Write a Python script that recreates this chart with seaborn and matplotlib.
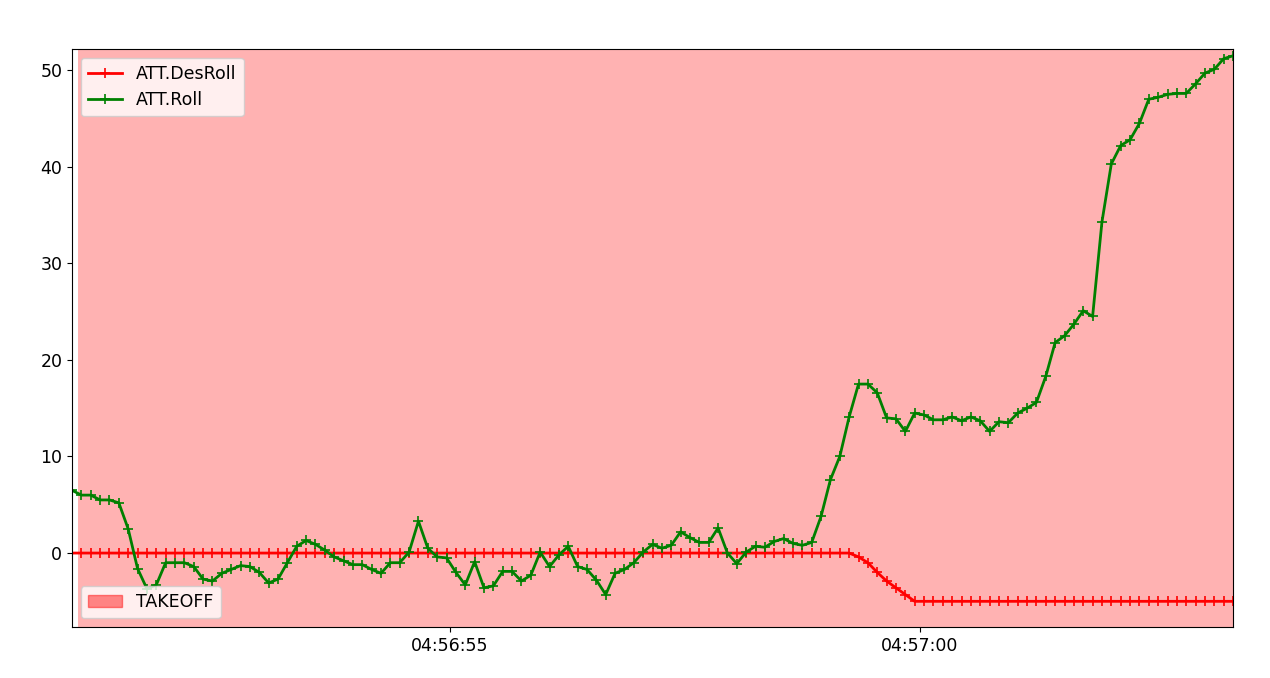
import numpy as np
import pandas as pd
import seaborn as sns
import matplotlib.pyplot as plt
import matplotlib.dates as mdates
from matplotlib.patches import Patch

# ATT log, ~10 Hz samples
t_start = "2000-01-01 04:56:50.980"
t_end = "2000-01-01 04:57:03.330"
takeoff_start = "2000-01-01 04:56:51.045"

roll = [6.5, 6.0, 6.0, 5.5, 5.5, 5.2, 2.5, -1.6, -3.7, -3.3,
        -1.0, -1.0, -1.0, -1.4, -2.7, -2.9, -2.1, -1.7, -1.3, -1.4,
        -2.0, -3.1, -2.7, -1.0, 0.7, 1.3, 0.9, 0.3, -0.4, -0.8,
        -1.2, -1.2, -1.7, -2.1, -1.0, -1.0, 0.1, 3.3, 0.5, -0.4,
        -0.5, -2.0, -3.3, -0.9, -3.6, -3.4, -1.9, -1.9, -2.9, -2.3,
        0.1, -1.4, -0.2, 0.7, -1.4, -1.7, -2.8, -4.3, -2.1, -1.7,
        -1.0, 0.1, 0.9, 0.5, 0.8, 2.2, 1.6, 1.1, 1.1, 2.6,
        0.0, -1.1, 0.1, 0.7, 0.6, 1.2, 1.5, 1.0, 0.8, 1.1,
        3.8, 7.6, 10.0, 14.1, 17.5, 17.5, 16.6, 14.0, 13.9, 12.6,
        14.5, 14.3, 13.8, 13.8, 14.1, 13.7, 14.1, 13.7, 12.6, 13.6,
        13.5, 14.5, 15.0, 15.6, 18.3, 21.8, 22.5, 23.7, 25.1, 24.5,
        34.3, 40.3, 42.2, 42.8, 44.5, 47.0, 47.2, 47.5, 47.6, 47.6,
        48.6, 49.7, 50.1, 51.2, 51.5]

des_roll = [0.0] * 84 + [-0.4, -1.0, -2.0, -2.9, -3.6, -4.3] + [-5.0] * 35

times = pd.date_range(t_start, t_end, periods=len(roll))
df = pd.DataFrame({"time": times, "ATT.DesRoll": des_roll, "ATT.Roll": roll})

fig = plt.figure(figsize=(12.7, 6.78), dpi=100)
ax = fig.add_axes([0.0567, 0.0752, 0.9142, 0.8525])

ax.axvspan(pd.Timestamp(takeoff_start), pd.Timestamp(t_end) + pd.Timedelta(seconds=1),
           color="red", alpha=0.3, lw=0)

sns.lineplot(data=df, x="time", y="ATT.DesRoll", color="red", marker="+",
             markersize=7, markeredgecolor="red", markeredgewidth=1.2,
             linewidth=2, ax=ax, label="ATT.DesRoll", legend=False)
sns.lineplot(data=df, x="time", y="ATT.Roll", color="green", marker="+",
             markersize=7, markeredgecolor="green", markeredgewidth=1.2,
             linewidth=2, ax=ax, label="ATT.Roll", legend=False)

ax.set_xlim(times[0], times[-1])
ax.set_ylim(-7.66, 52.2)
ax.set_xlabel("")
ax.set_ylabel("")
ax.xaxis.set_major_locator(mdates.SecondLocator(bysecond=range(0, 60, 5)))
ax.xaxis.set_major_formatter(mdates.DateFormatter("%H:%M:%S"))
ax.tick_params(labelsize=12.5)

lines = ax.get_lines()
leg1 = ax.legend(lines[:2], ["ATT.DesRoll", "ATT.Roll"], loc="upper left", fontsize=12.5)
ax.add_artist(leg1)
ax.legend([Patch(facecolor="red", edgecolor="red", alpha=0.45)], ["TAKEOFF"],
          loc="lower left", fontsize=12.5)

fig.savefig("out.png", dpi=100)
